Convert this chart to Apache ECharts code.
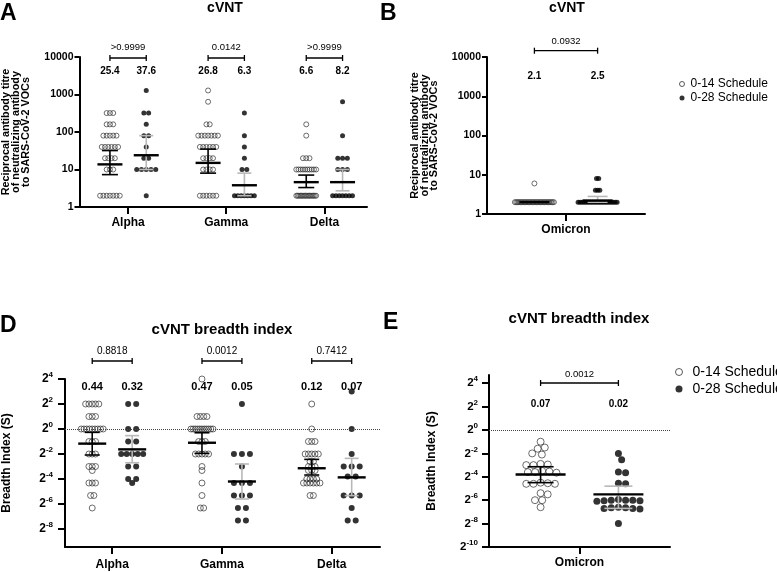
<!DOCTYPE html>
<html><head><meta charset="utf-8">
<script src="https://cdn.jsdelivr.net/npm/echarts@6/dist/echarts.min.js"></script>
<style>html,body{margin:0;padding:0;background:#fff}#c{width:777px;height:572px}</style>
</head><body><div id="c"></div><script>
const FONT = '"Liberation Sans", Arial, Helvetica, sans-serif';

// ---------- Panel A: cVNT titres ----------
const catsA = ['Alpha', 'Gamma', 'Delta'];
const A_alpha_014 = [320,320,320,160,160,160,80,80,80,80,80,40,40,40,40,40,40,20,20,20,20,10,10,10,2,2,2,2,2,2,2];
const A_alpha_028 = [1280,320,320,160,80,80,40,20,20,10,10,10,10,10,2];
const A_gamma_014 = [1280,640,160,160,80,80,80,80,80,80,80,40,40,40,40,40,40,20,20,20,20,10,10,10,10,2,2,2,2,2,2];
const A_gamma_028 = [320,80,40,20,10,10,2,2,2,2,2,2,2];
const A_delta_014 = [160,80,20,20,20,10,10,10,10,10,10,10,10,10,10,2,2,2,2,2,2,2,2,2,2,2,2,2,2,2,2];
const A_delta_028 = [640,80,20,20,20,10,10,10,2,2,2,2,2,2,2];
// [median, q1, q3]
const A_stats_014 = [[13.7, 7.3, 32], [15, 8, 35], [4.6, 3.3, 7.1]];
const A_stats_028 = [[24, 10, 80], [3.8, 2, 8], [4.6, 2.7, 10]];
const A_gmt = [['25.4', '37.6'], ['26.8', '6.3'], ['6.6', '8.2']];
const A_p = ['>0.9999', '0.0142', '>0.9999'];

// ---------- Panel B: cVNT Omicron ----------
const catsB = ['Omicron'];
const B_omicron_014 = [6,2,2,2,2,2,2,2,2,2,2,2,2,2,2,2,2,2,2,2,2,2,2,2,2,2,2,2,2,2,2];
const B_omicron_028 = [8,8,4,4,4,2,2,2,2,2,2,2,2,2,2,2,2,2,2,2,2,2,2,2,2];
const B_stats_014 = [[2, 2, 2]];
const B_stats_028 = [[2.2, 2, 2.8]];
const B_gmt = [['2.1', '2.5']];
const B_p = ['0.0932'];

// ---------- Panel D: breadth index (log2 S) ----------
const catsD = ['Alpha', 'Gamma', 'Delta'];
const D_alpha_014 = [2,2,2,2,2,1,1,1,0,0,0,0,0,0,0,0,0,-1,-1,-1,-2,-2,-2,-3,-3,-3,-3.32,-4.32,-4.32,-4.32,-5.32,-5.32,-6.32];
const D_alpha_028 = [2,2,0,0,-1,-1,-2,-2,-2,-2,-2,-3,-3,-4,-4,-4.32];
const D_gamma_014 = [4,1,1,1,1,0,0,0,0,0,0,0,0,0,0,0,-1,-1,-1,-2,-2,-2,-2,-2,-3,-3.32,-4.32,-5.32,-6.32,-6.32];
const D_gamma_028 = [2,-2,-2,-2,-3,-4.32,-4.32,-4.32,-5.32,-5.32,-5.32,-6.32,-6.32,-7.32,-7.32];
const D_delta_014 = [2,0,-1,-1,-1,-2,-2,-2,-2,-2,-2.6,-2.6,-3,-3,-3,-3.32,-3.32,-3.32,-4,-4,-4,-4,-4.32,-4.32,-4.32,-4.32,-4.32,-4.32,-5.32,-5.32];
const D_delta_028 = [3,0,-2,-3,-3,-3,-3.8,-3.8,-5.32,-5.32,-5.32,-6.32,-7.32,-7.32];
const D_stats_014 = [[-1.17, -2.08, -0.27], [-1.1, -1.95, -0.3], [-3.14, -3.68, -2.43]];
const D_stats_028 = [[-1.63, -2.7, -0.53], [-4.2, -5.6, -2.8], [-3.87, -5.33, -2.35]];
const D_gmt = [['0.44', '0.32'], ['0.47', '0.05'], ['0.12', '0.07']];
const D_p = ['0.8818', '0.0012', '0.7412'];
const D_ticks = [4, 2, 0, -2, -4, -6, -8];

// ---------- Panel E: breadth index Omicron (log2 S) ----------
const catsE = ['Omicron'];
const E_omicron_014 = [-1.0,-1.5,-1.6,-2.0,-2.1,-2.9,-2.95,-3.0,-3.0,-3.5,-3.55,-3.6,-3.6,-3.65,-4.5,-4.55,-4.6,-4.6,-4.6,-5.4,-5.5,-6.0,-6.0,-6.6];
const E_omicron_028 = [-2.0,-2.55,-3.6,-3.65,-4.55,-4.6,-5.95,-6.0,-6.0,-6.0,-6.05,-6.05,-6.1,-6.6,-6.65,-6.65,-6.7,-6.7,-6.75,-8.0];
const E_stats_014 = [[-3.8, -4.5, -3.14]];
const E_stats_028 = [[-5.5, -6.7, -4.8]];
const E_gmt = [['0.07', '0.02']];
const E_p = ['0.0012'];
const E_ticks = [4, 2, 0, -2, -4, -6, -8, -10];

const NAME_014 = '0-14 Schedule';
const NAME_028 = '0-28 Schedule';

// ---------- layout helpers ----------
function rowOffsets(values, sp, maxW, diam) {
  const groups = new Map();
  values.forEach((v, i) => { if (!groups.has(v)) groups.set(v, []); groups.get(v).push(i); });
  const off = new Array(values.length).fill(0);
  groups.forEach(idx => {
    const n = idx.length;
    const s = n > 1 ? Math.min(sp, (maxW - diam) / (n - 1)) : 0;
    idx.forEach((i, j) => { off[i] = (j - (n - 1) / 2) * s; });
  });
  return off;
}
function swarmOffsets(values, pxPerY, d) {
  const order = values.map((v, i) => i).sort((a, b) => values[b] - values[a]);
  const placed = [];
  const off = new Array(values.length).fill(0);
  order.forEach(i => {
    const y = -values[i] * pxPerY;
    const near = placed.filter(p => Math.abs(p.y - y) < d);
    const cands = [0];
    near.forEach(p => { const dx = Math.sqrt(d * d - (p.y - y) * (p.y - y)); cands.push(p.x + dx, p.x - dx); });
    cands.sort((a, b) => (Math.abs(a) - Math.abs(b)) || (b - a));
    const x = cands.find(c => near.every(p => (p.x - c) * (p.x - c) + (p.y - y) * (p.y - y) >= d * d - 1e-6));
    placed.push({ x, y }); off[i] = x;
  });
  return off;
}

const openStyle = { color: 'rgba(255,255,255,0)', borderColor: '#333', borderWidth: 0.9 };
const fillStyle = { color: '#000' };

function scatter(name, gi, center, values, offPx, ppu, size, filled, extra) {
  return Object.assign({
    type: 'scatter', name, xAxisIndex: gi, yAxisIndex: gi, symbolSize: size, clip: false, silent: true, z: 2,
    data: values.map((v, i) => [center + offPx[i] / ppu, v]),
    itemStyle: filled ? fillStyle : openStyle
  }, extra || {});
}

function statsSeries(gi, items, wColor, medHalf, capHalf) {
  return {
    type: 'custom', xAxisIndex: gi, yAxisIndex: gi, z: 5, silent: true, clip: false,
    data: items,
    renderItem(params, api) {
      const x = api.value(0);
      const m = api.coord([x, api.value(1)]);
      const lo = api.coord([x, api.value(2)]);
      const hi = api.coord([x, api.value(3)]);
      const ls = { stroke: wColor, lineWidth: 1.6 };
      return { type: 'group', children: [
        { type: 'line', shape: { x1: m[0], y1: hi[1], x2: m[0], y2: lo[1] }, style: ls },
        { type: 'line', shape: { x1: m[0] - capHalf, y1: hi[1], x2: m[0] + capHalf, y2: hi[1] }, style: ls },
        { type: 'line', shape: { x1: m[0] - capHalf, y1: lo[1], x2: m[0] + capHalf, y2: lo[1] }, style: ls },
        { type: 'line', shape: { x1: m[0] - medHalf, y1: m[1], x2: m[0] + medHalf, y2: m[1] }, style: { stroke: '#000', lineWidth: 2.4 } }
      ] };
    }
  };
}

function annotSeries(gi, pairs, yTop, nums, pvals, cfg) {
  return {
    type: 'custom', xAxisIndex: gi, yAxisIndex: gi, z: 6, silent: true, clip: false,
    data: pairs.map(p => [p[0], yTop, p[1]]),
    renderItem(params, api) {
      const i = params.dataIndex;
      const a = api.coord([api.value(0), api.value(1)]);
      const b = api.coord([api.value(2), api.value(1)]);
      const top = a[1];
      const yb = top + cfg.br;
      const st = { stroke: '#000', lineWidth: 1.3 };
      const txt = (t, x, y, font) => ({ type: 'text', style: { text: t, x, y, align: 'center', verticalAlign: 'middle', textAlign: 'center', textVerticalAlign: 'middle', font, fill: '#000' } });
      return { type: 'group', children: [
        { type: 'line', shape: { x1: a[0], y1: yb, x2: b[0], y2: yb }, style: st },
        { type: 'line', shape: { x1: a[0], y1: yb - 3, x2: a[0], y2: yb + 3 }, style: st },
        { type: 'line', shape: { x1: b[0], y1: yb - 3, x2: b[0], y2: yb + 3 }, style: st },
        txt(pvals[i], (a[0] + b[0]) / 2, top + cfg.pv, cfg.pFont),
        txt(nums[i][0], a[0], top + cfg.num, cfg.nFont),
        txt(nums[i][1], b[0], top + cfg.num, cfg.nFont)
      ] };
    }
  };
}

// ---------- grids ----------
const G = [
  { left: 77, top: 57, width: 290, height: 150 },
  { left: 487, top: 57, width: 158, height: 157 },
  { left: 65, top: 379, width: 315, height: 168 },
  { left: 489, top: 375, width: 181, height: 172 }
];
const XR = [[0.505, 3.434], [0, 2], [0.57, 3.44], [0, 2]];
const YR = [[1, 10000], [1, 10000], [-9.44, 4], [-10, 4.7]];
const PPU = G.map((g, i) => g.width / (XR[i][1] - XR[i][0]));
const OFF = [0.185, 0.4, 0.182, 0.43];

const axisLine = { show: true, onZero: false, lineStyle: { color: '#000', width: 2 } };

function xAxisCfg(gi, cats, margin) {
  const vals = cats.map((c, i) => i + 1);
  return {
    gridIndex: gi, type: 'value', min: XR[gi][0], max: XR[gi][1],
    axisLine,
    axisTick: { show: true, length: 7, lineStyle: { color: '#000', width: 2 }, customValues: vals },
    axisLabel: { customValues: vals, formatter: v => cats[Math.round(v) - 1] || '', margin, color: '#000', fontFamily: FONT, fontWeight: 'bold', fontSize: 12 },
    splitLine: { show: false }
  };
}
function yLogCfg(gi, name, gap) {
  return {
    gridIndex: gi, type: 'log', logBase: 10, min: YR[gi][0], max: YR[gi][1],
    axisLine, axisTick: { show: true, length: 5, lineStyle: { color: '#000', width: 2 } },
    axisLabel: { formatter: v => String(Math.round(v)), margin: 6, color: '#000', fontFamily: FONT, fontWeight: 'bold', fontSize: 10.5 },
    splitLine: { show: false }, minorTick: { show: false },
    name, nameLocation: 'middle', nameRotate: 90, nameGap: gap,
    nameTextStyle: { color: '#000', fontFamily: FONT, fontWeight: 'bold', fontSize: 10.8, lineHeight: 9.6 }
  };
}
function yLog2Cfg(gi, ticks, bSize, margin, gap) {
  return {
    gridIndex: gi, type: 'value', min: YR[gi][0], max: YR[gi][1],
    axisLine, axisTick: { show: true, length: 7, lineStyle: { color: '#000', width: 2 }, customValues: ticks },
    axisLabel: {
      customValues: ticks, margin, formatter: v => '{b|2}{s|' + v + '}',
      rich: {
        b: { fontSize: bSize, fontWeight: 'bold', fontFamily: FONT, color: '#000' },
        s: { fontSize: 8, fontWeight: 'bold', fontFamily: FONT, color: '#000', verticalAlign: 'bottom', padding: [0, 0, 8, 0] }
      }
    },
    splitLine: { show: false },
    name: 'Breadth Index (S)', nameLocation: 'middle', nameRotate: 90, nameGap: gap,
    nameTextStyle: { color: '#000', fontFamily: FONT, fontWeight: 'bold', fontSize: 12 }
  };
}

// ---------- series ----------
const series = [];
const dotted = { silent: true, symbol: 'none', label: { show: false }, lineStyle: { type: 'dotted', color: '#444', width: 1 }, data: [{ yAxis: 0 }] };

// Panel A
[[A_alpha_014, A_alpha_028], [A_gamma_014, A_gamma_028], [A_delta_014, A_delta_028]].forEach((pair, k) => {
  const c = k + 1;
  series.push(scatter(NAME_014, 0, c - OFF[0], pair[0], rowOffsets(pair[0], 3.3, 25, 5), PPU[0], 5, false));
  series.push(scatter(NAME_028, 0, c + OFF[0], pair[1], rowOffsets(pair[1], 4.8, 25, 5), PPU[0], 5, true));
});
series.push(statsSeries(0, A_stats_014.map((s, k) => [k + 1 - OFF[0], s[0], s[1], s[2]]), '#000', 12.5, 8));
series.push(statsSeries(0, A_stats_028.map((s, k) => [k + 1 + OFF[0], s[0], s[1], s[2]]), '#b8b8b8', 12.5, 7));
series.push(annotSeries(0, catsA.map((c, k) => [k + 1 - OFF[0], k + 1 + OFF[0]]), YR[0][1], A_gmt, A_p,
  { br: 1, pv: -10, num: 14.7, pFont: '9.5px ' + FONT, nFont: 'bold 10px ' + FONT }));

// Panel B
series.push(scatter(NAME_014, 1, 1 - OFF[1], B_omicron_014, rowOffsets(B_omicron_014, 2.2, 44, 5), PPU[1], 5, false));
series.push(scatter(NAME_028, 1, 1 + OFF[1], B_omicron_028, rowOffsets(B_omicron_028, 2.2, 44, 5), PPU[1], 5, true));
series.push(statsSeries(1, B_stats_014.map(s => [1 - OFF[1], s[0], s[1], s[2]]), '#000', 15, 10));
series.push(statsSeries(1, B_stats_028.map(s => [1 + OFF[1], s[0], s[1], s[2]]), '#b8b8b8', 15, 10));
series.push(annotSeries(1, [[1 - OFF[1], 1 + OFF[1]]], YR[1][1], B_gmt, B_p,
  { br: -6.3, pv: -16, num: 19, pFont: '9.5px ' + FONT, nFont: 'bold 10px ' + FONT }));

// Panel D
[[D_alpha_014, D_alpha_028], [D_gamma_014, D_gamma_028], [D_delta_014, D_delta_028]].forEach((pair, k) => {
  const c = k + 1;
  series.push(scatter(NAME_014, 2, c - OFF[2], pair[0], rowOffsets(pair[0], 3.3, 28, 6), PPU[2], 6, false, k === 0 ? { markLine: dotted } : null));
  series.push(scatter(NAME_028, 2, c + OFF[2], pair[1], rowOffsets(pair[1], 8, 28, 6), PPU[2], 6, true));
});
series.push(statsSeries(2, D_stats_014.map((s, k) => [k + 1 - OFF[2], s[0], s[1], s[2]]), '#000', 14, 7.5));
series.push(statsSeries(2, D_stats_028.map((s, k) => [k + 1 + OFF[2], s[0], s[1], s[2]]), '#b8b8b8', 14, 7));
series.push(annotSeries(2, catsD.map((c, k) => [k + 1 - OFF[2], k + 1 + OFF[2]]), YR[2][1], D_gmt, D_p,
  { br: -18, pv: -28, num: 8, pFont: '10px ' + FONT, nFont: 'bold 11px ' + FONT }));

// Panel E
const pxE = G[3].height / (YR[3][1] - YR[3][0]);
series.push(scatter(NAME_014, 3, 1 - OFF[3], E_omicron_014, swarmOffsets(E_omicron_014, pxE, 7.2), PPU[3], 7, false, { markLine: dotted }));
series.push(scatter(NAME_028, 3, 1 + OFF[3], E_omicron_028, swarmOffsets(E_omicron_028, pxE, 7.2), PPU[3], 7, true));
series.push(statsSeries(3, E_stats_014.map(s => [1 - OFF[3], s[0], s[1], s[2]]), '#000', 25, 13));
series.push(statsSeries(3, E_stats_028.map(s => [1 + OFF[3], s[0], s[1], s[2]]), '#b8b8b8', 25, 14));
series.push(annotSeries(3, [[1 - OFF[3], 1 + OFF[3]]], YR[3][1], E_gmt, E_p,
  { br: 8, pv: -1, num: 29, pFont: '9.5px ' + FONT, nFont: 'bold 10px ' + FONT }));

// ---------- texts ----------
const T = (text, x, y, font, align) => ({ type: 'text', x, y, silent: true, style: { text, font, fill: '#000', textAlign: align || 'center', textVerticalAlign: 'middle', align: align || 'center', verticalAlign: 'middle' } });
const graphic = [
  T('A', 0, 14, 'bold 23px ' + FONT, 'left'),
  T('cVNT', 225, 8, 'bold 14px ' + FONT),
  T('B', 380, 14, 'bold 23px ' + FONT, 'left'),
  T('cVNT', 567, 8, 'bold 14px ' + FONT),
  T('D', 0, 326, 'bold 23px ' + FONT, 'left'),
  T('cVNT breadth index', 222, 330, 'bold 15px ' + FONT),
  T('E', 383, 323, 'bold 23px ' + FONT, 'left'),
  T('cVNT breadth index', 579, 319, 'bold 15px ' + FONT)
];

const legendData = [
  { name: NAME_014, icon: 'circle', itemStyle: { color: 'rgba(255,255,255,0)', borderColor: '#333', borderWidth: 1 } },
  { name: NAME_028, icon: 'circle', itemStyle: { color: '#000', borderWidth: 0 } }
];

const option = {
  animation: false,
  backgroundColor: '#fff',
  textStyle: { fontFamily: FONT },
  grid: G,
  xAxis: [xAxisCfg(0, catsA, 10), xAxisCfg(1, catsB, 10), xAxisCfg(2, catsD, 12), xAxisCfg(3, catsE, 10)],
  yAxis: [
    yLogCfg(0, 'Reciprocal antibody titre\nof neutralizing antibody\nto SARS-CoV-2 VOCs', 49),
    yLogCfg(1, 'Reciprocal antibody titre\nof neutralizing antibody\nto SARS-CoV-2 VOCs', 48),
    yLog2Cfg(2, D_ticks, 12, 12, 52),
    yLog2Cfg(3, E_ticks, 11.5, 11, 51)
  ],
  legend: [
    { orient: 'vertical', left: 674, top: 73, itemWidth: 5, itemHeight: 5, itemGap: 2, selectedMode: false,
      textStyle: { fontSize: 12, lineHeight: 12, color: '#000', fontFamily: FONT, padding: [0, 0, 0, 1] }, data: legendData },
    { orient: 'vertical', left: 670, top: 360, itemWidth: 7, itemHeight: 7, itemGap: 3, selectedMode: false,
      textStyle: { fontSize: 14, lineHeight: 14, color: '#000', fontFamily: FONT, padding: [0, 0, 0, 5] }, data: legendData }
  ],
  graphic,
  series
};

const chart = echarts.init(document.getElementById('c'), null, { renderer: 'canvas', width: 777, height: 572 });
chart.setOption(option);
</script></body></html>
